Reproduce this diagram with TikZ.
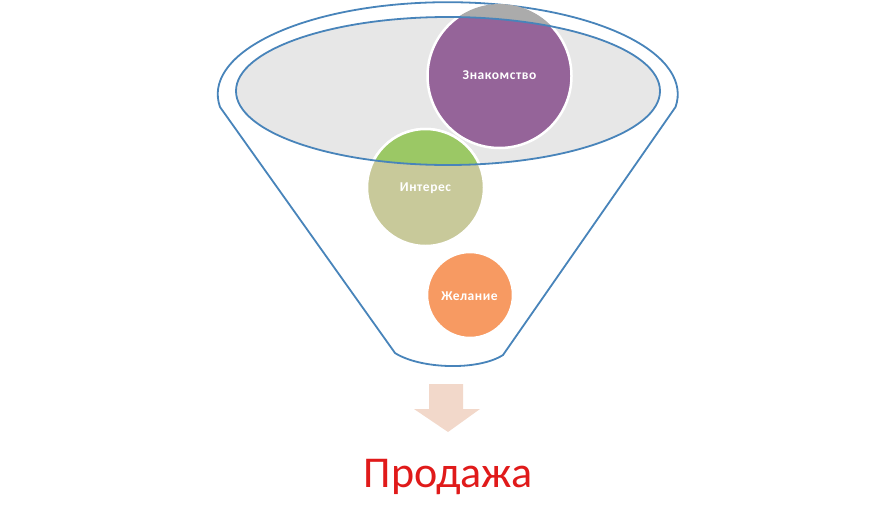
\documentclass[tikz,border=0pt]{standalone}
\usepackage{fontspec}
\setmainfont{Carlito}
\definecolor{funnelline}{RGB}{72,132,186}
\definecolor{rimfill}{RGB}{231,231,231}
\definecolor{purpin}{RGB}{149,100,153}
\definecolor{purpout}{RGB}{171,171,171}
\definecolor{greenin}{RGB}{155,200,101}
\definecolor{greenout}{RGB}{200,201,154}
\definecolor{orangec}{RGB}{247,154,98}
\definecolor{arrowc}{RGB}{242,216,202}
\definecolor{salered}{RGB}{224,26,26}
\tikzset{
  funnel/.style={draw=funnelline, line width=1.8pt},
  ring/.style={draw=white, line width=2.5pt},
  lbl/.style={text=white, font=\bfseries\fontsize{13.5}{15}\selectfont\addfontfeature{LetterSpace=4}, inner sep=0pt},
}
\begin{document}
\begin{tikzpicture}[x=1pt,y=-1pt]
\useasboundingbox (0,0) rectangle (896,512);
% outer funnel body
\draw[funnel, fill=white] (220,107) arc[start angle=172, end angle=368, x radius=230, y radius=92]
  -- (503,355) .. controls (478,371) and (420,369) .. (395,353) -- cycle;
% inner rim
\fill[rimfill] (448,91) ellipse [x radius=212, y radius=74];
% circles, outside colours
\fill[purpout] (499.5,76) circle [radius=72];
\draw[ring, fill=greenout] (425.5,187.5) circle [radius=58.5];
\draw[ring, fill=orangec] (470,295) circle [radius=43];
% circles, inside the rim
\begin{scope}
  \clip (448,91) ellipse [x radius=212, y radius=74];
  \draw[ring, fill=purpin] (499.5,76) circle [radius=72];
  \draw[ring, fill=greenin] (425.5,187.5) circle [radius=58.5];
\end{scope}
% rim outline
\draw[funnel] (448,91) ellipse [x radius=212, y radius=74];
% labels
\node[lbl] (zn) at (499.5,75) {Знакомство};
\node[lbl] (in) at (425.5,188) {Интерес};
\node[lbl] (zh) at (469.5,296) {Желание};
% arrow
\fill[arrowc] (429,384) -- (463,384) -- (463,409) -- (480,409) -- (448,432) -- (414,409) -- (429,409) -- cycle;
\node[text=salered, font=\fontsize{44}{50}\selectfont, anchor=base, inner sep=0pt] (sale) at (448,487) {Продажа};
\end{tikzpicture}
\end{document}
